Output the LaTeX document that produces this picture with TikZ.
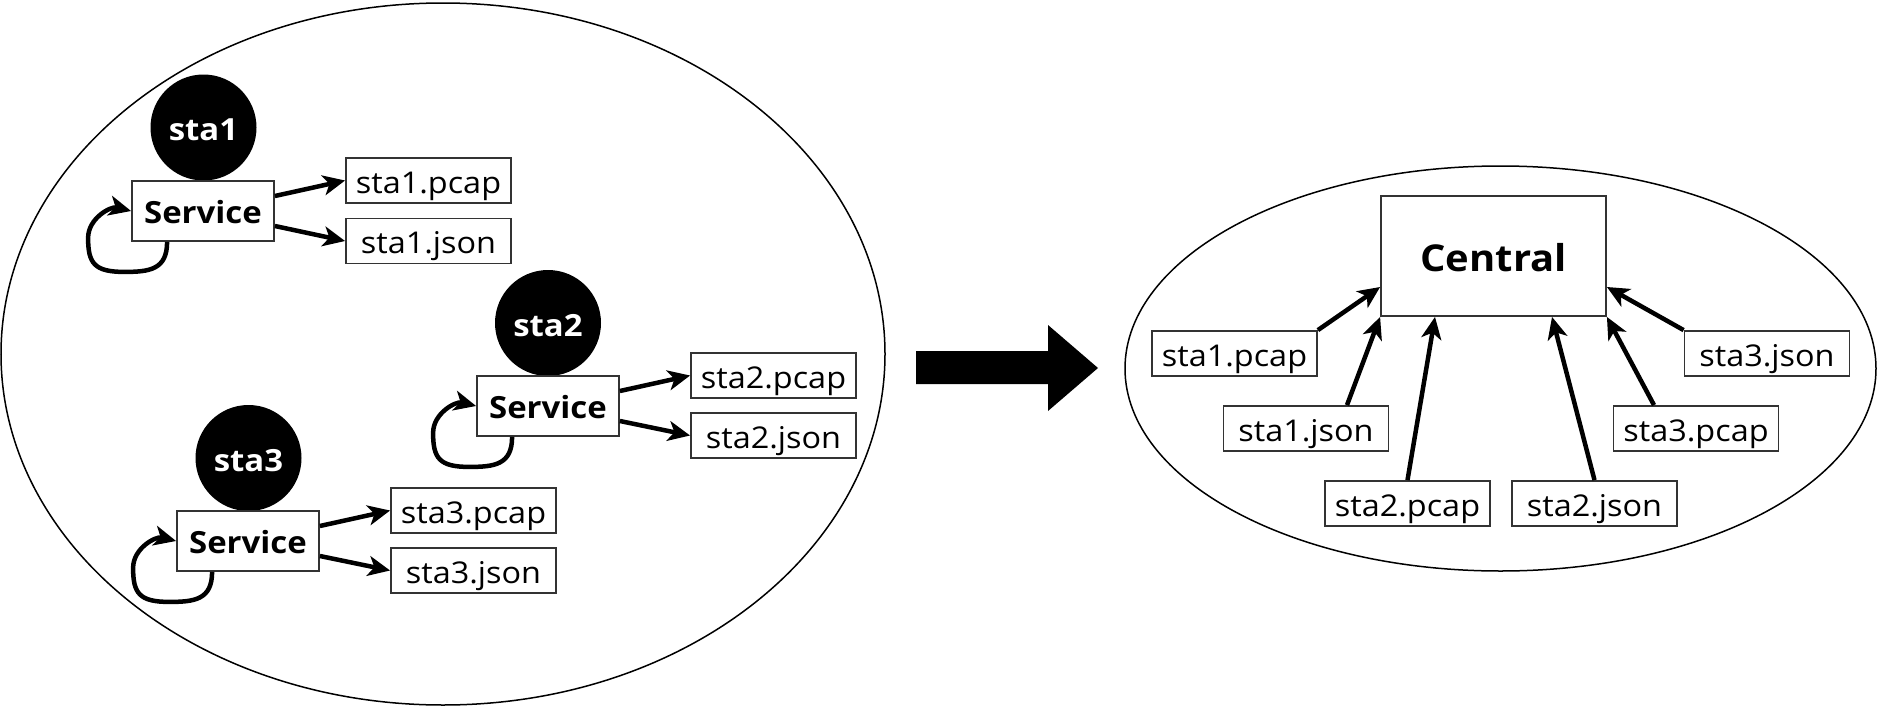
\documentclass[tikz,border=0pt]{standalone}
\usepackage{fontspec}
\setmainfont{Open Sans}[FakeStretch=1.08]
\usetikzlibrary{arrows.meta,shapes.geometric,calc}
\newcommand\svcloop[1]{%
  \draw[arr] ($(#1.south west)+(36,0)$) .. controls +(0,28) and +(25,0) .. ($(#1.south west)+(-7,30)$)
    .. controls +(-30,0) and +(0,25) .. ($(#1.west)+(-43,27)$)
    .. controls +(0,-20) and +(-20,-5) .. (#1.west);
}
\begin{document}
\begin{tikzpicture}[x=1pt,y=-1pt,
  zone/.style={draw=black, line width=1.5pt, ellipse, inner sep=0pt},
  sta/.style={circle, fill=black, text=white, inner sep=0pt, minimum size=106pt, text height=27pt, text depth=0.6pt, font=\bfseries\fontsize{30.5}{36}\selectfont},
  box/.style={draw=black!80, line width=1.8pt, fill=white, inner sep=0pt},
  svc/.style={box, minimum width=142pt, minimum height=60pt, text height=26pt, text depth=1.4pt, font=\bfseries\fontsize{30.5}{36}\selectfont},
  file/.style={box, minimum width=165pt, minimum height=45pt, text height=28pt, text depth=3pt, font=\fontsize{30}{36}\selectfont},
  ctr/.style={box, minimum width=225pt, minimum height=120pt, text height=31pt, text depth=1pt, font=\bfseries\fontsize{37}{44}\selectfont},
  arr/.style={line width=4.5pt, -{Stealth[length=22pt,width=20pt,inset=6pt]}},
]
\useasboundingbox (0,0) rectangle (1877,707);
% zones
\node[zone, minimum width=884pt, minimum height=702pt] (left) at (443,354) {};
\node[zone, minimum width=751pt, minimum height=405pt] (right) at (1500.5,368.5) {};

% station 1
\node[sta] (c1) at (203.5,127.5) {sta1};
\node[svc] (s1) at (203,211) {Service};
\node[file] (p1) at (428.5,180.5) {sta1.pcap};
\node[file] (j1) at (428.5,241) {sta1.json};
% station 2
\node[sta] (c2) at (548,323) {sta2};
\node[svc] (s2) at (548,406) {Service};
\node[file] (p2) at (773.5,375.5) {sta2.pcap};
\node[file] (j2) at (773.5,435.5) {sta2.json};
% station 3
\node[sta] (c3) at (248.5,458) {sta3};
\node[svc] (s3) at (248,541) {Service};
\node[file] (p3) at (473.5,510.5) {sta3.pcap};
\node[file] (j3) at (473.5,570.5) {sta3.json};

\foreach \i in {1,2,3}{
  \draw[arr] ($(s\i.east)+(0,-15)$) -- (p\i.west);
  \draw[arr] ($(s\i.east)+(0,15)$) -- (j\i.west);
  \svcloop{s\i}
}

% big arrow
\fill (916,351) -- (1048,351) -- (1048,325) -- (1098,368) -- (1048,411) -- (1048,384) -- (916,384) -- cycle;

% central
\node[ctr] (central) at (1493.5,256) {Central};
\node[file] (rp1) at (1234.5,353.5) {sta1.pcap};
\node[file] (rj1) at (1306,428.5) {sta1.json};
\node[file] (rp2) at (1407.5,503.5) {sta2.pcap};
\node[file] (rj2) at (1594.5,503.5) {sta2.json};
\node[file] (rp3) at (1696,428.5) {sta3.pcap};
\node[file] (rj3) at (1767,353.5) {sta3.json};

\draw[arr] (rp1.north east) -- ($(central.west)+(0,31)$);
\draw[arr] ($(rj1.north)+(41,0)$) -- (central.south west);
\draw[arr] (rp2.north) -- ($(central.south)+(-58.5,0)$);
\draw[arr] (rj2.north) -- ($(central.south)+(58.5,0)$);
\draw[arr] ($(rp3.north)+(-42,0)$) -- (central.south east);
\draw[arr] (rj3.north west) -- ($(central.east)+(0,31)$);
\end{tikzpicture}
\end{document}
